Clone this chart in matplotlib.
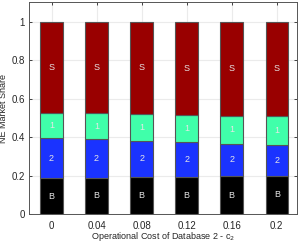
import numpy as np
import matplotlib
matplotlib.use('Agg')
import matplotlib.pyplot as plt

plt.rcParams['font.family'] = ['Liberation Sans', 'DejaVu Sans']

# data
costs = ['0', '0.04', '0.08', '0.12', '0.16', '0.2']
share_B = [0.185, 0.188, 0.190, 0.193, 0.196, 0.200]
share_2 = [0.209, 0.202, 0.192, 0.182, 0.170, 0.158]
share_1 = [0.133, 0.135, 0.138, 0.142, 0.146, 0.150]
share_S = [0.473, 0.475, 0.480, 0.483, 0.488, 0.492]

labels = ['B', '2', '1', 'S']
colors = ['#000000', '#1a33ff', '#40ffaa', '#990000']

fig = plt.figure(figsize=(3.05, 2.44), dpi=100)
ax = fig.add_axes([0.095, 0.123, 0.879, 0.867])

x = np.arange(1, len(costs) + 1)
bottom = np.zeros(len(costs))
for vals, lab, col in zip([share_B, share_2, share_1, share_S], labels, colors):
    vals = np.array(vals)
    ax.bar(x, vals, width=0.5, bottom=bottom, color=col, edgecolor='#555555',
           linewidth=0.8, zorder=3)
    for xi, b, v in zip(x, bottom, vals):
        ax.text(xi, b + v / 2, lab, ha='center', va='center', color='#e6e6e6',
                fontsize=6.5, zorder=4)
    bottom += vals

ax.set_xlim(0.5, 6.45)
ax.set_ylim(0, 1.1)
ax.set_xticks(x)
ax.set_xticklabels(costs)
ax.set_yticks([0, 0.2, 0.4, 0.6, 0.8, 1])
ax.set_yticklabels(['0', '0.2', '0.4', '0.6', '0.8', '1'])
ax.grid(True, color='#ebebeb', linewidth=0.8, zorder=0)
ax.set_axisbelow(True)
ax.tick_params(direction='in', top=True, right=True, length=2.5, width=0.6,
               labelsize=7, colors='#262626')
ax.tick_params(axis='y', pad=3)
ax.tick_params(axis='x', pad=5)
for s in ax.spines.values():
    s.set_color('#555555')
    s.set_linewidth(0.7)

ax.set_xlabel('Operational Cost of Database 2 - c$_2$', fontsize=6.5,
              color='#262626')
ax.xaxis.set_label_coords(0.5, -0.078)
ax.set_ylabel('NE Market Share', fontsize=6.5, color='#262626')
ax.yaxis.set_label_coords(-0.08, 0.5)

fig.savefig('out.png', dpi=100)
